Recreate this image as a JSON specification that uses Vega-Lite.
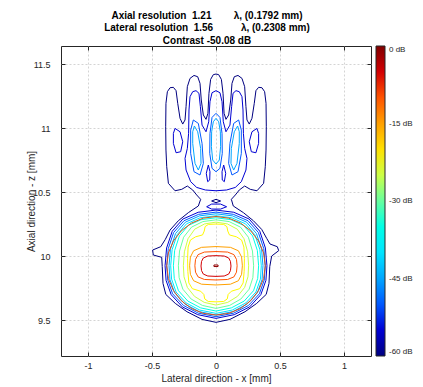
{
"$schema": "https://vega.github.io/schema/vega-lite/v6.json",
"width": 310, "height": 310,
"autosize": {"type": "none"},
"padding": {"left": 61, "top": 46, "right": 52, "bottom": 31},
"background": "white",
"config": {
  "font": "Liberation Sans",
  "view": {"stroke": "#262626", "strokeWidth": 1},
  "axis": {"labelFont": "Liberation Sans", "labelFontSize": 9, "labelColor": "#262626", "titleFont": "Liberation Sans", "titleFontSize": 10, "titleFontWeight": "normal", "titleColor": "#262626", "domain": false, "grid": true, "gridColor": "#d4d4d4", "gridDash": [2, 2], "tickColor": "#262626", "tickSize": -4}
},
"title": {"text": ["Axial resolution\u00a0\u00a01.21\u00a0\u00a0\u00a0\u00a0\u00a0\u00a0\u00a0\u00a0λ, (0.1792 mm)", "Lateral resolution\u00a0\u00a01.56\u00a0\u00a0\u00a0\u00a0\u00a0\u00a0\u00a0\u00a0\u00a0\u00a0λ, (0.2308 mm)", "Contrast -50.08 dB"], "fontSize": 10, "fontWeight": "bold", "font": "Liberation Sans", "color": "#000000", "anchor": "middle", "baseline": "bottom", "offset": 1, "dx": -9, "dy": 11, "lineHeight": 12.5},
"datasets": {
"c": [
{"p":"o60","l":-60,"o":1,"x":-0.120,"z":10.443},{"p":"o60","l":-60,"o":2,"x":-0.151,"z":10.477},{"p":"o60","l":-60,"o":3,"x":-0.182,"z":10.516},{"p":"o60","l":-60,"o":4,"x":-0.224,"z":10.547},{"p":"o60","l":-60,"o":5,"x":-0.268,"z":10.521},{"p":"o60","l":-60,"o":6,"x":-0.320,"z":10.510},{"p":"o60","l":-60,"o":7,"x":-0.372,"z":10.568},{"p":"o60","l":-60,"o":8,"x":-0.385,"z":10.698},{"p":"o60","l":-60,"o":9,"x":-0.391,"z":10.828},{"p":"o60","l":-60,"o":10,"x":-0.393,"z":11.010},
{"p":"o60","l":-60,"o":11,"x":-0.391,"z":11.193},{"p":"o60","l":-60,"o":12,"x":-0.380,"z":11.284},{"p":"o60","l":-60,"o":13,"x":-0.359,"z":11.315},{"p":"o60","l":-60,"o":14,"x":-0.333,"z":11.318},{"p":"o60","l":-60,"o":15,"x":-0.312,"z":11.292},{"p":"o60","l":-60,"o":16,"x":-0.299,"z":11.193},{"p":"o60","l":-60,"o":17,"x":-0.281,"z":11.076},{"p":"o60","l":-60,"o":18,"x":-0.260,"z":11.031},{"p":"o60","l":-60,"o":19,"x":-0.242,"z":11.063},{"p":"o60","l":-60,"o":20,"x":-0.234,"z":11.167},
{"p":"o60","l":-60,"o":21,"x":-0.224,"z":11.323},{"p":"o60","l":-60,"o":22,"x":-0.203,"z":11.388},{"p":"o60","l":-60,"o":23,"x":-0.172,"z":11.411},{"p":"o60","l":-60,"o":24,"x":-0.143,"z":11.401},{"p":"o60","l":-60,"o":25,"x":-0.125,"z":11.349},{"p":"o60","l":-60,"o":26,"x":-0.115,"z":11.219},{"p":"o60","l":-60,"o":27,"x":-0.099,"z":11.102},{"p":"o60","l":-60,"o":28,"x":-0.078,"z":11.068},{"p":"o60","l":-60,"o":29,"x":-0.063,"z":11.115},{"p":"o60","l":-60,"o":30,"x":-0.055,"z":11.271},
{"p":"o60","l":-60,"o":31,"x":-0.042,"z":11.380},{"p":"o60","l":-60,"o":32,"x":-0.021,"z":11.417},{"p":"o60","l":-60,"o":33,"x":0,"z":11.422},{"p":"o60","l":-60,"o":34,"x":0.021,"z":11.417},{"p":"o60","l":-60,"o":35,"x":0.042,"z":11.380},{"p":"o60","l":-60,"o":36,"x":0.055,"z":11.271},{"p":"o60","l":-60,"o":37,"x":0.063,"z":11.115},{"p":"o60","l":-60,"o":38,"x":0.078,"z":11.068},{"p":"o60","l":-60,"o":39,"x":0.099,"z":11.102},{"p":"o60","l":-60,"o":40,"x":0.115,"z":11.219},
{"p":"o60","l":-60,"o":41,"x":0.125,"z":11.349},{"p":"o60","l":-60,"o":42,"x":0.143,"z":11.401},{"p":"o60","l":-60,"o":43,"x":0.172,"z":11.411},{"p":"o60","l":-60,"o":44,"x":0.203,"z":11.388},{"p":"o60","l":-60,"o":45,"x":0.224,"z":11.323},{"p":"o60","l":-60,"o":46,"x":0.234,"z":11.167},{"p":"o60","l":-60,"o":47,"x":0.242,"z":11.063},{"p":"o60","l":-60,"o":48,"x":0.260,"z":11.031},{"p":"o60","l":-60,"o":49,"x":0.281,"z":11.076},{"p":"o60","l":-60,"o":50,"x":0.299,"z":11.193},
{"p":"o60","l":-60,"o":51,"x":0.312,"z":11.292},{"p":"o60","l":-60,"o":52,"x":0.333,"z":11.318},{"p":"o60","l":-60,"o":53,"x":0.359,"z":11.315},{"p":"o60","l":-60,"o":54,"x":0.380,"z":11.284},{"p":"o60","l":-60,"o":55,"x":0.391,"z":11.193},{"p":"o60","l":-60,"o":56,"x":0.393,"z":11.010},{"p":"o60","l":-60,"o":57,"x":0.391,"z":10.828},{"p":"o60","l":-60,"o":58,"x":0.385,"z":10.698},{"p":"o60","l":-60,"o":59,"x":0.372,"z":10.568},{"p":"o60","l":-60,"o":60,"x":0.320,"z":10.510},
{"p":"o60","l":-60,"o":61,"x":0.268,"z":10.521},{"p":"o60","l":-60,"o":62,"x":0.224,"z":10.547},{"p":"o60","l":-60,"o":63,"x":0.182,"z":10.516},{"p":"o60","l":-60,"o":64,"x":0.151,"z":10.477},{"p":"o60","l":-60,"o":65,"x":0.120,"z":10.443},{"p":"o60","l":-60,"o":66,"x":0.135,"z":10.391},{"p":"o60","l":-60,"o":67,"x":0.214,"z":10.339},{"p":"o60","l":-60,"o":68,"x":0.292,"z":10.276},{"p":"o60","l":-60,"o":69,"x":0.357,"z":10.208},{"p":"o60","l":-60,"o":70,"x":0.396,"z":10.138},
{"p":"o60","l":-60,"o":71,"x":0.422,"z":10.094},{"p":"o60","l":-60,"o":72,"x":0.479,"z":10.073},{"p":"o60","l":-60,"o":73,"x":0.490,"z":10.042},{"p":"o60","l":-60,"o":74,"x":0.435,"z":10.000},{"p":"o60","l":-60,"o":75,"x":0.420,"z":9.917},{"p":"o60","l":-60,"o":76,"x":0.414,"z":9.786},{"p":"o60","l":-60,"o":77,"x":0.392,"z":9.700},{"p":"o60","l":-60,"o":78,"x":0.318,"z":9.630},{"p":"o60","l":-60,"o":79,"x":0.227,"z":9.565},{"p":"o60","l":-60,"o":80,"x":0.109,"z":9.505},
{"p":"o60","l":-60,"o":81,"x":0,"z":9.482},{"p":"o60","l":-60,"o":82,"x":-0.109,"z":9.505},{"p":"o60","l":-60,"o":83,"x":-0.227,"z":9.565},{"p":"o60","l":-60,"o":84,"x":-0.318,"z":9.630},{"p":"o60","l":-60,"o":85,"x":-0.392,"z":9.700},{"p":"o60","l":-60,"o":86,"x":-0.414,"z":9.786},{"p":"o60","l":-60,"o":87,"x":-0.420,"z":9.917},{"p":"o60","l":-60,"o":88,"x":-0.424,"z":9.990},{"p":"o60","l":-60,"o":89,"x":-0.490,"z":10.008},{"p":"o60","l":-60,"o":90,"x":-0.495,"z":10.047},
{"p":"o60","l":-60,"o":91,"x":-0.432,"z":10.073},{"p":"o60","l":-60,"o":92,"x":-0.396,"z":10.130},{"p":"o60","l":-60,"o":93,"x":-0.359,"z":10.203},{"p":"o60","l":-60,"o":94,"x":-0.294,"z":10.276},{"p":"o60","l":-60,"o":95,"x":-0.216,"z":10.339},{"p":"o60","l":-60,"o":96,"x":-0.138,"z":10.391},

{"p":"t55","l":-55,"o":1,"x":-0.151,"z":10.536},{"p":"t55","l":-55,"o":2,"x":-0.198,"z":10.581},{"p":"t55","l":-55,"o":3,"x":-0.234,"z":10.672},{"p":"t55","l":-55,"o":4,"x":-0.242,"z":10.763},{"p":"t55","l":-55,"o":5,"x":-0.224,"z":10.841},{"p":"t55","l":-55,"o":6,"x":-0.214,"z":10.958},{"p":"t55","l":-55,"o":7,"x":-0.211,"z":11.141},{"p":"t55","l":-55,"o":8,"x":-0.203,"z":11.245},{"p":"t55","l":-55,"o":9,"x":-0.182,"z":11.284},{"p":"t55","l":-55,"o":10,"x":-0.156,"z":11.292},
{"p":"t55","l":-55,"o":11,"x":-0.133,"z":11.271},{"p":"t55","l":-55,"o":12,"x":-0.122,"z":11.167},{"p":"t55","l":-55,"o":13,"x":-0.109,"z":11.023},{"p":"t55","l":-55,"o":14,"x":-0.078,"z":10.971},{"p":"t55","l":-55,"o":15,"x":-0.057,"z":11.049},{"p":"t55","l":-55,"o":16,"x":-0.047,"z":11.206},{"p":"t55","l":-55,"o":17,"x":-0.031,"z":11.276},{"p":"t55","l":-55,"o":18,"x":0,"z":11.292},{"p":"t55","l":-55,"o":19,"x":0.031,"z":11.276},{"p":"t55","l":-55,"o":20,"x":0.047,"z":11.206},
{"p":"t55","l":-55,"o":21,"x":0.057,"z":11.049},{"p":"t55","l":-55,"o":22,"x":0.078,"z":10.971},{"p":"t55","l":-55,"o":23,"x":0.109,"z":11.023},{"p":"t55","l":-55,"o":24,"x":0.122,"z":11.167},{"p":"t55","l":-55,"o":25,"x":0.133,"z":11.271},{"p":"t55","l":-55,"o":26,"x":0.156,"z":11.292},{"p":"t55","l":-55,"o":27,"x":0.182,"z":11.284},{"p":"t55","l":-55,"o":28,"x":0.203,"z":11.245},{"p":"t55","l":-55,"o":29,"x":0.211,"z":11.141},{"p":"t55","l":-55,"o":30,"x":0.214,"z":10.958},
{"p":"t55","l":-55,"o":31,"x":0.224,"z":10.841},{"p":"t55","l":-55,"o":32,"x":0.242,"z":10.763},{"p":"t55","l":-55,"o":33,"x":0.234,"z":10.672},{"p":"t55","l":-55,"o":34,"x":0.198,"z":10.581},{"p":"t55","l":-55,"o":35,"x":0.151,"z":10.536},{"p":"t55","l":-55,"o":36,"x":0.083,"z":10.516},{"p":"t55","l":-55,"o":37,"x":0,"z":10.510},{"p":"t55","l":-55,"o":38,"x":-0.083,"z":10.516},

{"p":"tl55","l":-55,"o":1,"x":-0.320,"z":10.997},{"p":"tl55","l":-55,"o":2,"x":-0.281,"z":10.971},{"p":"tl55","l":-55,"o":3,"x":-0.260,"z":10.893},{"p":"tl55","l":-55,"o":4,"x":-0.276,"z":10.815},{"p":"tl55","l":-55,"o":5,"x":-0.312,"z":10.807},{"p":"tl55","l":-55,"o":6,"x":-0.333,"z":10.880},{"p":"tl55","l":-55,"o":7,"x":-0.333,"z":10.958},
{"p":"tr55","l":-55,"o":1,"x":0.320,"z":10.997},{"p":"tr55","l":-55,"o":2,"x":0.281,"z":10.971},{"p":"tr55","l":-55,"o":3,"x":0.260,"z":10.893},{"p":"tr55","l":-55,"o":4,"x":0.276,"z":10.815},{"p":"tr55","l":-55,"o":5,"x":0.312,"z":10.807},{"p":"tr55","l":-55,"o":6,"x":0.333,"z":10.880},{"p":"tr55","l":-55,"o":7,"x":0.333,"z":10.958},

{"p":"sl55","l":-55,"o":1,"x":-0.060,"z":10.711},{"p":"sl55","l":-55,"o":2,"x":-0.047,"z":10.659},{"p":"sl55","l":-55,"o":3,"x":-0.049,"z":10.594},{"p":"sl55","l":-55,"o":4,"x":-0.065,"z":10.581},{"p":"sl55","l":-55,"o":5,"x":-0.076,"z":10.646},
{"p":"sr55","l":-55,"o":1,"x":0.060,"z":10.711},{"p":"sr55","l":-55,"o":2,"x":0.076,"z":10.646},{"p":"sr55","l":-55,"o":3,"x":0.065,"z":10.581},{"p":"sr55","l":-55,"o":4,"x":0.049,"z":10.594},{"p":"sr55","l":-55,"o":5,"x":0.047,"z":10.659},

{"p":"n60","l":-60,"o":1,"x":-0.034,"z":10.430},{"p":"n60","l":-60,"o":2,"x":0,"z":10.443},{"p":"n60","l":-60,"o":3,"x":0.036,"z":10.430},{"p":"n60","l":-60,"o":4,"x":0,"z":10.417},
{"p":"n55","l":-55,"o":1,"x":-0.073,"z":10.385},{"p":"n55","l":-55,"o":2,"x":-0.034,"z":10.406},{"p":"n55","l":-55,"o":3,"x":0.036,"z":10.406},{"p":"n55","l":-55,"o":4,"x":0.083,"z":10.385},{"p":"n55","l":-55,"o":5,"x":0.036,"z":10.367},{"p":"n55","l":-55,"o":6,"x":-0.034,"z":10.367},

{"p":"a50l","l":-50,"o":1,"x":-0.177,"z":11.063},{"p":"a50l","l":-50,"o":2,"x":-0.138,"z":11.036},{"p":"a50l","l":-50,"o":3,"x":-0.109,"z":10.880},{"p":"a50l","l":-50,"o":4,"x":-0.099,"z":10.724},{"p":"a50l","l":-50,"o":5,"x":-0.125,"z":10.633},{"p":"a50l","l":-50,"o":6,"x":-0.172,"z":10.659},{"p":"a50l","l":-50,"o":7,"x":-0.198,"z":10.802},{"p":"a50l","l":-50,"o":8,"x":-0.198,"z":10.984},
{"p":"a50r","l":-50,"o":1,"x":0.177,"z":11.063},{"p":"a50r","l":-50,"o":2,"x":0.138,"z":11.036},{"p":"a50r","l":-50,"o":3,"x":0.109,"z":10.880},{"p":"a50r","l":-50,"o":4,"x":0.099,"z":10.724},{"p":"a50r","l":-50,"o":5,"x":0.125,"z":10.633},{"p":"a50r","l":-50,"o":6,"x":0.172,"z":10.659},{"p":"a50r","l":-50,"o":7,"x":0.198,"z":10.802},{"p":"a50r","l":-50,"o":8,"x":0.198,"z":10.984},
{"p":"a50c","l":-50,"o":1,"x":0,"z":11.115},{"p":"a50c","l":-50,"o":2,"x":0.031,"z":11.083},{"p":"a50c","l":-50,"o":3,"x":0.047,"z":10.958},{"p":"a50c","l":-50,"o":4,"x":0.049,"z":10.802},{"p":"a50c","l":-50,"o":5,"x":0.031,"z":10.685},{"p":"a50c","l":-50,"o":6,"x":0,"z":10.659},{"p":"a50c","l":-50,"o":7,"x":-0.031,"z":10.685},{"p":"a50c","l":-50,"o":8,"x":-0.049,"z":10.802},{"p":"a50c","l":-50,"o":9,"x":-0.047,"z":10.958},{"p":"a50c","l":-50,"o":10,"x":-0.031,"z":11.083},

{"p":"a45c","l":-45,"o":1,"x":0,"z":11.076},{"p":"a45c","l":-45,"o":2,"x":0.021,"z":11.049},{"p":"a45c","l":-45,"o":3,"x":0.034,"z":10.971},{"p":"a45c","l":-45,"o":4,"x":0.036,"z":10.854},{"p":"a45c","l":-45,"o":5,"x":0.026,"z":10.750},{"p":"a45c","l":-45,"o":6,"x":0,"z":10.719},{"p":"a45c","l":-45,"o":7,"x":-0.026,"z":10.750},{"p":"a45c","l":-45,"o":8,"x":-0.036,"z":10.854},{"p":"a45c","l":-45,"o":9,"x":-0.034,"z":10.971},{"p":"a45c","l":-45,"o":10,"x":-0.021,"z":11.049},
{"p":"a45l","l":-45,"o":1,"x":-0.169,"z":11.016},{"p":"a45l","l":-45,"o":2,"x":-0.143,"z":10.971},{"p":"a45l","l":-45,"o":3,"x":-0.120,"z":10.841},{"p":"a45l","l":-45,"o":4,"x":-0.117,"z":10.724},{"p":"a45l","l":-45,"o":5,"x":-0.138,"z":10.672},{"p":"a45l","l":-45,"o":6,"x":-0.164,"z":10.724},{"p":"a45l","l":-45,"o":7,"x":-0.182,"z":10.880},{"p":"a45l","l":-45,"o":8,"x":-0.182,"z":10.971},
{"p":"a45r","l":-45,"o":1,"x":0.169,"z":11.016},{"p":"a45r","l":-45,"o":2,"x":0.143,"z":10.971},{"p":"a45r","l":-45,"o":3,"x":0.120,"z":10.841},{"p":"a45r","l":-45,"o":4,"x":0.117,"z":10.724},{"p":"a45r","l":-45,"o":5,"x":0.138,"z":10.672},{"p":"a45r","l":-45,"o":6,"x":0.164,"z":10.724},{"p":"a45r","l":-45,"o":7,"x":0.182,"z":10.880},{"p":"a45r","l":-45,"o":8,"x":0.182,"z":10.971},

{"p":"m55","l":-55,"o":1,"x":0,"z":10.359},{"p":"m55","l":-55,"o":2,"x":0.139,"z":10.342},{"p":"m55","l":-55,"o":3,"x":0.259,"z":10.289},{"p":"m55","l":-55,"o":4,"x":0.342,"z":10.194},{"p":"m55","l":-55,"o":5,"x":0.386,"z":10.063},{"p":"m55","l":-55,"o":6,"x":0.398,"z":9.924},{"p":"m55","l":-55,"o":7,"x":0.390,"z":9.809},{"p":"m55","l":-55,"o":8,"x":0.350,"z":9.698},{"p":"m55","l":-55,"o":9,"x":0.263,"z":9.603},{"p":"m55","l":-55,"o":10,"x":0.143,"z":9.542},
{"p":"m55","l":-55,"o":11,"x":0,"z":9.513},{"p":"m55","l":-55,"o":12,"x":-0.143,"z":9.542},{"p":"m55","l":-55,"o":13,"x":-0.263,"z":9.603},{"p":"m55","l":-55,"o":14,"x":-0.350,"z":9.698},{"p":"m55","l":-55,"o":15,"x":-0.390,"z":9.809},{"p":"m55","l":-55,"o":16,"x":-0.398,"z":9.924},{"p":"m55","l":-55,"o":17,"x":-0.386,"z":10.063},{"p":"m55","l":-55,"o":18,"x":-0.342,"z":10.194},{"p":"m55","l":-55,"o":19,"x":-0.259,"z":10.289},{"p":"m55","l":-55,"o":20,"x":-0.139,"z":10.342},

{"p":"m50","l":-50,"o":1,"x":0,"z":10.343},{"p":"m50","l":-50,"o":2,"x":0.135,"z":10.326},{"p":"m50","l":-50,"o":3,"x":0.250,"z":10.276},{"p":"m50","l":-50,"o":4,"x":0.331,"z":10.184},{"p":"m50","l":-50,"o":5,"x":0.373,"z":10.058},{"p":"m50","l":-50,"o":6,"x":0.385,"z":9.924},{"p":"m50","l":-50,"o":7,"x":0.377,"z":9.813},{"p":"m50","l":-50,"o":8,"x":0.339,"z":9.705},{"p":"m50","l":-50,"o":9,"x":0.254,"z":9.614},{"p":"m50","l":-50,"o":10,"x":0.139,"z":9.554},
{"p":"m50","l":-50,"o":11,"x":0,"z":9.526},{"p":"m50","l":-50,"o":12,"x":-0.139,"z":9.554},{"p":"m50","l":-50,"o":13,"x":-0.254,"z":9.614},{"p":"m50","l":-50,"o":14,"x":-0.339,"z":9.705},{"p":"m50","l":-50,"o":15,"x":-0.377,"z":9.813},{"p":"m50","l":-50,"o":16,"x":-0.385,"z":9.924},{"p":"m50","l":-50,"o":17,"x":-0.373,"z":10.058},{"p":"m50","l":-50,"o":18,"x":-0.331,"z":10.184},{"p":"m50","l":-50,"o":19,"x":-0.250,"z":10.276},{"p":"m50","l":-50,"o":20,"x":-0.135,"z":10.326},

{"p":"m45","l":-45,"o":1,"x":0,"z":10.330},{"p":"m45","l":-45,"o":2,"x":0.128,"z":10.314},{"p":"m45","l":-45,"o":3,"x":0.239,"z":10.265},{"p":"m45","l":-45,"o":4,"x":0.316,"z":10.176},{"p":"m45","l":-45,"o":5,"x":0.356,"z":10.054},{"p":"m45","l":-45,"o":6,"x":0.367,"z":9.924},{"p":"m45","l":-45,"o":7,"x":0.360,"z":9.816},{"p":"m45","l":-45,"o":8,"x":0.323,"z":9.712},{"p":"m45","l":-45,"o":9,"x":0.242,"z":9.624},{"p":"m45","l":-45,"o":10,"x":0.132,"z":9.566},
{"p":"m45","l":-45,"o":11,"x":0,"z":9.539},{"p":"m45","l":-45,"o":12,"x":-0.132,"z":9.566},{"p":"m45","l":-45,"o":13,"x":-0.242,"z":9.624},{"p":"m45","l":-45,"o":14,"x":-0.323,"z":9.712},{"p":"m45","l":-45,"o":15,"x":-0.360,"z":9.816},{"p":"m45","l":-45,"o":16,"x":-0.367,"z":9.924},{"p":"m45","l":-45,"o":17,"x":-0.356,"z":10.054},{"p":"m45","l":-45,"o":18,"x":-0.316,"z":10.176},{"p":"m45","l":-45,"o":19,"x":-0.239,"z":10.265},{"p":"m45","l":-45,"o":20,"x":-0.128,"z":10.314},

{"p":"m40","l":-40,"o":1,"x":0,"z":10.315},{"p":"m40","l":-40,"o":2,"x":0.124,"z":10.299},{"p":"m40","l":-40,"o":3,"x":0.230,"z":10.252},{"p":"m40","l":-40,"o":4,"x":0.304,"z":10.166},{"p":"m40","l":-40,"o":5,"x":0.343,"z":10.049},{"p":"m40","l":-40,"o":6,"x":0.354,"z":9.924},{"p":"m40","l":-40,"o":7,"x":0.347,"z":9.820},{"p":"m40","l":-40,"o":8,"x":0.312,"z":9.719},{"p":"m40","l":-40,"o":9,"x":0.234,"z":9.634},{"p":"m40","l":-40,"o":10,"x":0.127,"z":9.578},
{"p":"m40","l":-40,"o":11,"x":0,"z":9.552},{"p":"m40","l":-40,"o":12,"x":-0.127,"z":9.578},{"p":"m40","l":-40,"o":13,"x":-0.234,"z":9.634},{"p":"m40","l":-40,"o":14,"x":-0.312,"z":9.719},{"p":"m40","l":-40,"o":15,"x":-0.347,"z":9.820},{"p":"m40","l":-40,"o":16,"x":-0.354,"z":9.924},{"p":"m40","l":-40,"o":17,"x":-0.343,"z":10.049},{"p":"m40","l":-40,"o":18,"x":-0.304,"z":10.166},{"p":"m40","l":-40,"o":19,"x":-0.230,"z":10.252},{"p":"m40","l":-40,"o":20,"x":-0.124,"z":10.299},

{"p":"m35","l":-35,"o":1,"x":0,"z":10.299},{"p":"m35","l":-35,"o":2,"x":0.117,"z":10.284},{"p":"m35","l":-35,"o":3,"x":0.216,"z":10.239},{"p":"m35","l":-35,"o":4,"x":0.286,"z":10.157},{"p":"m35","l":-35,"o":5,"x":0.323,"z":10.044},{"p":"m35","l":-35,"o":6,"x":0.333,"z":9.924},{"p":"m35","l":-35,"o":7,"x":0.326,"z":9.825},{"p":"m35","l":-35,"o":8,"x":0.293,"z":9.729},{"p":"m35","l":-35,"o":9,"x":0.220,"z":9.648},{"p":"m35","l":-35,"o":10,"x":0.120,"z":9.595},
{"p":"m35","l":-35,"o":11,"x":0,"z":9.570},{"p":"m35","l":-35,"o":12,"x":-0.120,"z":9.595},{"p":"m35","l":-35,"o":13,"x":-0.220,"z":9.648},{"p":"m35","l":-35,"o":14,"x":-0.293,"z":9.729},{"p":"m35","l":-35,"o":15,"x":-0.326,"z":9.825},{"p":"m35","l":-35,"o":16,"x":-0.333,"z":9.924},{"p":"m35","l":-35,"o":17,"x":-0.323,"z":10.044},{"p":"m35","l":-35,"o":18,"x":-0.286,"z":10.157},{"p":"m35","l":-35,"o":19,"x":-0.216,"z":10.239},{"p":"m35","l":-35,"o":20,"x":-0.117,"z":10.284},

{"p":"m30","l":-30,"o":1,"x":0,"z":10.283},{"p":"m30","l":-30,"o":2,"x":0.103,"z":10.269},{"p":"m30","l":-30,"o":3,"x":0.191,"z":10.226},{"p":"m30","l":-30,"o":4,"x":0.253,"z":10.147},{"p":"m30","l":-30,"o":5,"x":0.285,"z":10.039},{"p":"m30","l":-30,"o":6,"x":0.294,"z":9.924},{"p":"m30","l":-30,"o":7,"x":0.288,"z":9.831},{"p":"m30","l":-30,"o":8,"x":0.259,"z":9.741},{"p":"m30","l":-30,"o":9,"x":0.194,"z":9.664},{"p":"m30","l":-30,"o":10,"x":0.106,"z":9.614},
{"p":"m30","l":-30,"o":11,"x":0,"z":9.591},{"p":"m30","l":-30,"o":12,"x":-0.106,"z":9.614},{"p":"m30","l":-30,"o":13,"x":-0.194,"z":9.664},{"p":"m30","l":-30,"o":14,"x":-0.259,"z":9.741},{"p":"m30","l":-30,"o":15,"x":-0.288,"z":9.831},{"p":"m30","l":-30,"o":16,"x":-0.294,"z":9.924},{"p":"m30","l":-30,"o":17,"x":-0.285,"z":10.039},{"p":"m30","l":-30,"o":18,"x":-0.253,"z":10.147},{"p":"m30","l":-30,"o":19,"x":-0.191,"z":10.226},{"p":"m30","l":-30,"o":20,"x":-0.103,"z":10.269},

{"p":"m25","l":-25,"o":1,"x":0,"z":10.265},{"p":"m25","l":-25,"o":2,"x":0.089,"z":10.251},{"p":"m25","l":-25,"o":3,"x":0.166,"z":10.210},{"p":"m25","l":-25,"o":4,"x":0.219,"z":10.135},{"p":"m25","l":-25,"o":5,"x":0.247,"z":10.033},{"p":"m25","l":-25,"o":6,"x":0.255,"z":9.924},{"p":"m25","l":-25,"o":7,"x":0.250,"z":9.838},{"p":"m25","l":-25,"o":8,"x":0.224,"z":9.755},{"p":"m25","l":-25,"o":9,"x":0.168,"z":9.685},{"p":"m25","l":-25,"o":10,"x":0.092,"z":9.638},
{"p":"m25","l":-25,"o":11,"x":0,"z":9.617},{"p":"m25","l":-25,"o":12,"x":-0.092,"z":9.638},{"p":"m25","l":-25,"o":13,"x":-0.168,"z":9.685},{"p":"m25","l":-25,"o":14,"x":-0.224,"z":9.755},{"p":"m25","l":-25,"o":15,"x":-0.250,"z":9.838},{"p":"m25","l":-25,"o":16,"x":-0.255,"z":9.924},{"p":"m25","l":-25,"o":17,"x":-0.247,"z":10.033},{"p":"m25","l":-25,"o":18,"x":-0.219,"z":10.135},{"p":"m25","l":-25,"o":19,"x":-0.166,"z":10.210},{"p":"m25","l":-25,"o":20,"x":-0.089,"z":10.251},

{"p":"y20","l":-22,"o":1,"x":0,"z":10.250},{"p":"y20","l":-22,"o":2,"x":0.060,"z":10.247},{"p":"y20","l":-22,"o":3,"x":0.085,"z":10.230},{"p":"y20","l":-22,"o":4,"x":0.092,"z":10.195},{"p":"y20","l":-22,"o":5,"x":0.105,"z":10.165},{"p":"y20","l":-22,"o":6,"x":0.160,"z":10.150},{"p":"y20","l":-22,"o":7,"x":0.200,"z":10.125},{"p":"y20","l":-22,"o":8,"x":0.218,"z":10.070},{"p":"y20","l":-22,"o":9,"x":0.222,"z":9.980},{"p":"y20","l":-22,"o":10,"x":0.220,"z":9.880},
{"p":"y20","l":-22,"o":11,"x":0.212,"z":9.790},{"p":"y20","l":-22,"o":12,"x":0.185,"z":9.745},{"p":"y20","l":-22,"o":13,"x":0.120,"z":9.725},{"p":"y20","l":-22,"o":14,"x":0.095,"z":9.700},{"p":"y20","l":-22,"o":15,"x":0.088,"z":9.665},{"p":"y20","l":-22,"o":16,"x":0.060,"z":9.645},{"p":"y20","l":-22,"o":17,"x":0,"z":9.642},{"p":"y20","l":-22,"o":18,"x":-0.060,"z":9.645},{"p":"y20","l":-22,"o":19,"x":-0.088,"z":9.665},{"p":"y20","l":-22,"o":20,"x":-0.095,"z":9.700},
{"p":"y20","l":-22,"o":21,"x":-0.120,"z":9.725},{"p":"y20","l":-22,"o":22,"x":-0.185,"z":9.745},{"p":"y20","l":-22,"o":23,"x":-0.212,"z":9.790},{"p":"y20","l":-22,"o":24,"x":-0.220,"z":9.880},{"p":"y20","l":-22,"o":25,"x":-0.222,"z":9.980},{"p":"y20","l":-22,"o":26,"x":-0.218,"z":10.070},{"p":"y20","l":-22,"o":27,"x":-0.200,"z":10.125},{"p":"y20","l":-22,"o":28,"x":-0.160,"z":10.150},{"p":"y20","l":-22,"o":29,"x":-0.105,"z":10.165},{"p":"y20","l":-22,"o":30,"x":-0.092,"z":10.195},
{"p":"y20","l":-22,"o":31,"x":-0.085,"z":10.230},{"p":"y20","l":-22,"o":32,"x":-0.060,"z":10.247},

{"p":"e15","l":-15,"o":1,"x":0.206,"z":9.924},{"p":"e15","l":-15,"o":2,"x":0.200,"z":9.992},{"p":"e15","l":-15,"o":3,"x":0.175,"z":10.041},{"p":"e15","l":-15,"o":4,"x":0.113,"z":10.068},{"p":"e15","l":-15,"o":5,"x":0,"z":10.074},{"p":"e15","l":-15,"o":6,"x":-0.113,"z":10.068},{"p":"e15","l":-15,"o":7,"x":-0.175,"z":10.041},{"p":"e15","l":-15,"o":8,"x":-0.200,"z":9.992},
{"p":"e15","l":-15,"o":9,"x":-0.206,"z":9.924},{"p":"e15","l":-15,"o":10,"x":-0.200,"z":9.857},{"p":"e15","l":-15,"o":11,"x":-0.175,"z":9.807},{"p":"e15","l":-15,"o":12,"x":-0.113,"z":9.780},{"p":"e15","l":-15,"o":13,"x":0,"z":9.774},{"p":"e15","l":-15,"o":14,"x":0.113,"z":9.780},{"p":"e15","l":-15,"o":15,"x":0.175,"z":9.807},{"p":"e15","l":-15,"o":16,"x":0.200,"z":9.857},

{"p":"e10","l":-10,"o":1,"x":0.165,"z":9.924},{"p":"e10","l":-10,"o":2,"x":0.160,"z":9.974},{"p":"e10","l":-10,"o":3,"x":0.140,"z":10.011},{"p":"e10","l":-10,"o":4,"x":0.091,"z":10.031},{"p":"e10","l":-10,"o":5,"x":0,"z":10.035},{"p":"e10","l":-10,"o":6,"x":-0.091,"z":10.031},{"p":"e10","l":-10,"o":7,"x":-0.140,"z":10.011},{"p":"e10","l":-10,"o":8,"x":-0.160,"z":9.974},
{"p":"e10","l":-10,"o":9,"x":-0.165,"z":9.924},{"p":"e10","l":-10,"o":10,"x":-0.160,"z":9.874},{"p":"e10","l":-10,"o":11,"x":-0.140,"z":9.837},{"p":"e10","l":-10,"o":12,"x":-0.091,"z":9.817},{"p":"e10","l":-10,"o":13,"x":0,"z":9.813},{"p":"e10","l":-10,"o":14,"x":0.091,"z":9.817},{"p":"e10","l":-10,"o":15,"x":0.140,"z":9.837},{"p":"e10","l":-10,"o":16,"x":0.160,"z":9.874},

{"p":"e5","l":-5,"o":1,"x":0.117,"z":9.922},{"p":"e5","l":-5,"o":2,"x":0.113,"z":9.958},{"p":"e5","l":-5,"o":3,"x":0.099,"z":9.985},{"p":"e5","l":-5,"o":4,"x":0.064,"z":10.000},{"p":"e5","l":-5,"o":5,"x":0,"z":10.003},{"p":"e5","l":-5,"o":6,"x":-0.064,"z":10.000},{"p":"e5","l":-5,"o":7,"x":-0.099,"z":9.985},{"p":"e5","l":-5,"o":8,"x":-0.113,"z":9.958},
{"p":"e5","l":-5,"o":9,"x":-0.117,"z":9.922},{"p":"e5","l":-5,"o":10,"x":-0.113,"z":9.886},{"p":"e5","l":-5,"o":11,"x":-0.099,"z":9.859},{"p":"e5","l":-5,"o":12,"x":-0.064,"z":9.844},{"p":"e5","l":-5,"o":13,"x":0,"z":9.841},{"p":"e5","l":-5,"o":14,"x":0.064,"z":9.844},{"p":"e5","l":-5,"o":15,"x":0.099,"z":9.859},{"p":"e5","l":-5,"o":16,"x":0.113,"z":9.886},

{"p":"d0","l":-1,"o":1,"x":-0.016,"z":9.930},{"p":"d0","l":-1,"o":2,"x":0.016,"z":9.930},{"p":"d0","l":-1,"o":3,"x":0.016,"z":9.918},{"p":"d0","l":-1,"o":4,"x":-0.016,"z":9.918}
],
"roi": [
{"o":1,"x":0.385,"z":9.924},{"o":2,"x":0.372,"z":10.024},{"o":3,"x":0.333,"z":10.117},{"o":4,"x":0.272,"z":10.196},{"o":5,"x":0.193,"z":10.257},{"o":6,"x":0.100,"z":10.296},{"o":7,"x":0,"z":10.309},{"o":8,"x":-0.100,"z":10.296},{"o":9,"x":-0.193,"z":10.257},{"o":10,"x":-0.272,"z":10.196},{"o":11,"x":-0.333,"z":10.117},{"o":12,"x":-0.372,"z":10.024},
{"o":13,"x":-0.385,"z":9.924},{"o":14,"x":-0.372,"z":9.824},{"o":15,"x":-0.333,"z":9.731},{"o":16,"x":-0.272,"z":9.652},{"o":17,"x":-0.193,"z":9.591},{"o":18,"x":-0.100,"z":9.552},{"o":19,"x":0,"z":9.539},{"o":20,"x":0.100,"z":9.552},{"o":21,"x":0.193,"z":9.591},{"o":22,"x":0.272,"z":9.652},{"o":23,"x":0.333,"z":9.731},{"o":24,"x":0.372,"z":9.824}
]
},
"resolve": {"axis": {"x": "independent", "y": "independent"}},
"layer": [
{
  "data": {"name": "c"},
  "mark": {"type": "line", "interpolate": "linear-closed", "strokeWidth": 1},
  "encoding": {
    "x": {"field": "x", "type": "quantitative", "scale": {"domain": [-1.211, 1.211], "nice": false, "zero": false}, "axis": {"values": [-1, -0.5, 0, 0.5, 1], "title": "Lateral direction - x [mm]", "labelExpr": "datum.value + ''", "labelPadding": 9, "titlePadding": 3}},
    "y": {"field": "z", "type": "quantitative", "scale": {"domain": [9.219, 11.641], "nice": false, "zero": false}, "axis": {"values": [9.5, 10, 10.5, 11, 11.5], "title": "Axial direction - z [mm]", "labelExpr": "datum.value + ''", "labelPadding": 15, "titlePadding": -4}},
    "color": {"field": "l", "type": "quantitative", "scale": {"domain": [-60, -52.5, -37.5, -22.5, -7.5, 0], "range": ["#000080", "#0000ff", "#00ffff", "#ffff00", "#ff0000", "#800000"]},
      "legend": {"title": null, "values": [-60, -45, -30, -15, 0], "labelExpr": "datum.value + ' dB'", "gradientLength": 310, "gradientThickness": 9, "orient": "none", "legendX": 315, "legendY": 0, "direction": "vertical", "labelFontSize": 8, "labelFont": "Liberation Sans", "labelColor": "#262626", "labelBaseline": "middle", "labelOffset": 4, "gradientStrokeColor": "#262626", "gradientStrokeWidth": 1, "padding": 0}},
    "detail": {"field": "p"},
    "order": {"field": "o", "type": "quantitative"}
  }
},
{
  "data": {"name": "roi"},
  "mark": {"type": "line", "interpolate": "linear-closed", "color": "#d95319", "strokeWidth": 1},
  "encoding": {
    "x": {"field": "x", "type": "quantitative", "axis": {"orient": "top", "values": [-1, -0.5, 0, 0.5, 1], "labels": false, "title": null, "grid": false}},
    "y": {"field": "z", "type": "quantitative", "axis": {"orient": "right", "values": [9.5, 10, 10.5, 11, 11.5], "labels": false, "title": null, "grid": false}},
    "order": {"field": "o", "type": "quantitative"}
  }
}
]
}
